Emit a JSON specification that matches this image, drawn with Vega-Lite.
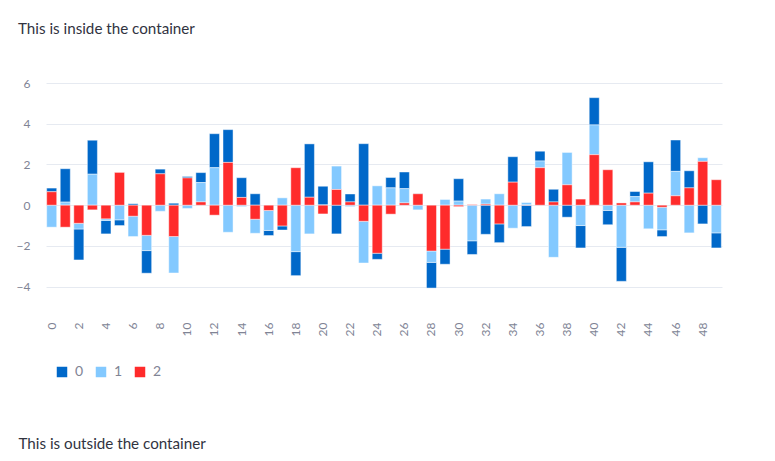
{
  "$schema": "https://vega.github.io/schema/vega-lite/v6.json",
  "width": 676,
  "height": 224,
  "autosize": {"type": "none"},
  "padding": {"left": 46, "top": 83, "right": 53, "bottom": 154},
  "background": "white",
  "title": {"text": "This is inside the container", "anchor": "start", "frame": "group", "dx": -28, "offset": 40, "fontSize": 15.2, "font": "Lato", "fontWeight": "normal", "color": "#31333F"},
  "config": {
    "view": {"stroke": null},
    "font": "Lato"
  },
  "data": {
    "values": [
      {"x":0,"series":"0","value":0.18},{"x":0,"series":"1","value":-1.08},{"x":0,"series":"2","value":0.66},
      {"x":1,"series":"0","value":1.64},{"x":1,"series":"1","value":0.15},{"x":1,"series":"2","value":-1.08},
      {"x":2,"series":"0","value":-1.52},{"x":2,"series":"1","value":-0.28},{"x":2,"series":"2","value":-0.89},
      {"x":3,"series":"0","value":1.67},{"x":3,"series":"1","value":1.52},{"x":3,"series":"2","value":-0.23},
      {"x":4,"series":"0","value":-0.66},{"x":4,"series":"1","value":-0.08},{"x":4,"series":"2","value":-0.67},
      {"x":5,"series":"0","value":-0.28},{"x":5,"series":"1","value":-0.72},{"x":5,"series":"2","value":1.61},
      {"x":6,"series":"0","value":0.07},{"x":6,"series":"1","value":-1.0},{"x":6,"series":"2","value":-0.54},
      {"x":7,"series":"0","value":-1.11},{"x":7,"series":"1","value":-0.75},{"x":7,"series":"2","value":-1.48},
      {"x":8,"series":"0","value":0.23},{"x":8,"series":"1","value":-0.3},{"x":8,"series":"2","value":1.54},
      {"x":9,"series":"0","value":0.1},{"x":9,"series":"1","value":-1.79},{"x":9,"series":"2","value":-1.54},
      {"x":10,"series":"0","value":0.07},{"x":10,"series":"1","value":-0.16},{"x":10,"series":"2","value":1.34},
      {"x":11,"series":"0","value":0.49},{"x":11,"series":"1","value":0.95},{"x":11,"series":"2","value":0.16},
      {"x":12,"series":"0","value":1.67},{"x":12,"series":"1","value":1.84},{"x":12,"series":"2","value":-0.49},
      {"x":13,"series":"0","value":1.61},{"x":13,"series":"1","value":-1.33},{"x":13,"series":"2","value":2.1},
      {"x":14,"series":"0","value":0.97},{"x":14,"series":"1","value":-0.07},{"x":14,"series":"2","value":0.38},
      {"x":15,"series":"0","value":0.56},{"x":15,"series":"1","value":-0.69},{"x":15,"series":"2","value":-0.69},
      {"x":16,"series":"0","value":-0.25},{"x":16,"series":"1","value":-0.98},{"x":16,"series":"2","value":-0.26},
      {"x":17,"series":"0","value":-0.2},{"x":17,"series":"1","value":0.36},{"x":17,"series":"2","value":-1.02},
      {"x":18,"series":"0","value":-1.18},{"x":18,"series":"1","value":-2.28},{"x":18,"series":"2","value":1.84},
      {"x":19,"series":"0","value":2.62},{"x":19,"series":"1","value":-1.41},{"x":19,"series":"2","value":0.39},
      {"x":20,"series":"0","value":0.92},{"x":20,"series":"1","value":0.01},{"x":20,"series":"2","value":-0.43},
      {"x":21,"series":"0","value":-1.41},{"x":21,"series":"1","value":1.15},{"x":21,"series":"2","value":0.77},
      {"x":22,"series":"0","value":0.39},{"x":22,"series":"1","value":-0.07},{"x":22,"series":"2","value":0.16},
      {"x":23,"series":"0","value":3.02},{"x":23,"series":"1","value":-2.05},{"x":23,"series":"2","value":-0.79},
      {"x":24,"series":"0","value":-0.3},{"x":24,"series":"1","value":0.95},{"x":24,"series":"2","value":-2.36},
      {"x":25,"series":"0","value":0.51},{"x":25,"series":"1","value":0.85},{"x":25,"series":"2","value":-0.44},
      {"x":26,"series":"0","value":0.82},{"x":26,"series":"1","value":0.7},{"x":26,"series":"2","value":0.11},
      {"x":27,"series":"0","value":0.01},{"x":27,"series":"1","value":-0.23},{"x":27,"series":"2","value":0.56},
      {"x":28,"series":"0","value":-1.26},{"x":28,"series":"1","value":-0.56},{"x":28,"series":"2","value":-2.25},
      {"x":29,"series":"0","value":-0.74},{"x":29,"series":"1","value":0.28},{"x":29,"series":"2","value":-2.16},
      {"x":30,"series":"0","value":1.1},{"x":30,"series":"1","value":0.2},{"x":30,"series":"2","value":-0.07},
      {"x":31,"series":"0","value":-0.67},{"x":31,"series":"1","value":-1.75},{"x":31,"series":"2","value":0.03},
      {"x":32,"series":"0","value":-1.43},{"x":32,"series":"1","value":0.25},{"x":32,"series":"2","value":0.05},
      {"x":33,"series":"0","value":-0.92},{"x":33,"series":"1","value":0.56},{"x":33,"series":"2","value":-0.92},
      {"x":34,"series":"0","value":1.25},{"x":34,"series":"1","value":-1.13},{"x":34,"series":"2","value":1.13},
      {"x":35,"series":"0","value":-1.05},{"x":35,"series":"1","value":0.12},{"x":35,"series":"2","value":0.01},
      {"x":36,"series":"0","value":0.48},{"x":36,"series":"1","value":0.33},{"x":36,"series":"2","value":1.84},
      {"x":37,"series":"0","value":0.62},{"x":37,"series":"1","value":-2.56},{"x":37,"series":"2","value":0.16},
      {"x":38,"series":"0","value":-0.59},{"x":38,"series":"1","value":1.59},{"x":38,"series":"2","value":1.0},
      {"x":39,"series":"0","value":-1.1},{"x":39,"series":"1","value":-1.0},{"x":39,"series":"2","value":0.3},
      {"x":40,"series":"0","value":1.34},{"x":40,"series":"1","value":1.46},{"x":40,"series":"2","value":2.48},
      {"x":41,"series":"0","value":-0.7},{"x":41,"series":"1","value":-0.26},{"x":41,"series":"2","value":1.74},
      {"x":42,"series":"0","value":-1.67},{"x":42,"series":"1","value":-2.07},{"x":42,"series":"2","value":0.11},
      {"x":43,"series":"0","value":0.25},{"x":43,"series":"1","value":0.26},{"x":43,"series":"2","value":0.16},
      {"x":44,"series":"0","value":1.54},{"x":44,"series":"1","value":-1.16},{"x":44,"series":"2","value":0.59},
      {"x":45,"series":"0","value":-0.33},{"x":45,"series":"1","value":-1.11},{"x":45,"series":"2","value":-0.1},
      {"x":46,"series":"0","value":1.54},{"x":46,"series":"1","value":1.2},{"x":46,"series":"2","value":0.46},
      {"x":47,"series":"0","value":0.84},{"x":47,"series":"1","value":-1.36},{"x":47,"series":"2","value":0.85},
      {"x":48,"series":"0","value":-0.92},{"x":48,"series":"1","value":0.18},{"x":48,"series":"2","value":2.15},
      {"x":49,"series":"0","value":-0.74},{"x":49,"series":"1","value":-1.36},{"x":49,"series":"2","value":1.25}
    ]
  },
  "mark": {"type": "bar", "stroke": "#ffffff", "strokeWidth": 1, "strokeOpacity": 0.45},
  "encoding": {
    "x": {
      "field": "x", "type": "ordinal",
      "scale": {"paddingInner": 0.26, "paddingOuter": 0.05},
      "axis": {
        "values": [0,2,4,6,8,10,12,14,16,18,20,22,24,26,28,30,32,34,36,38,40,42,44,46,48],
        "labelAngle": -90, "labelFontSize": 12, "labelColor": "#808495", "labelFont": "Lato",
        "domain": false, "ticks": false, "tickSize": 0, "labelPadding": 15, "grid": false,
        "title": "This is outside the container",
        "titleX": -28, "titleY": 141, "titleAlign": "left", "titleAnchor": "start", "titleBaseline": "alphabetic",
        "titleFontSize": 15.2, "titleFontWeight": "normal", "titleColor": "#31333F", "titleFont": "Lato"
      }
    },
    "y": {
      "field": "value", "type": "quantitative", "stack": "zero",
      "axis": {
        "title": null, "domain": false, "ticks": false, "tickSize": 0, "labelPadding": 16,
        "labelFontSize": 12, "labelColor": "#808495", "labelFont": "Lato",
        "gridColor": "#e6eaf1", "gridWidth": 1
      }
    },
    "color": {
      "field": "series", "type": "nominal",
      "scale": {"domain": ["0","1","2"], "range": ["#0068c9", "#83c9ff", "#ff2b2b"]},
      "legend": {
        "title": null, "orient": "none", "legendX": 9, "legendY": 282, "direction": "horizontal",
        "symbolType": "square", "symbolSize": 110, "symbolStrokeWidth": 0, "symbolOpacity": 1,
        "labelFontSize": 14, "labelColor": "#808495", "labelFont": "Lato", "labelOffset": 6,
        "columnPadding": 10, "padding": 0
      }
    }
  }
}
